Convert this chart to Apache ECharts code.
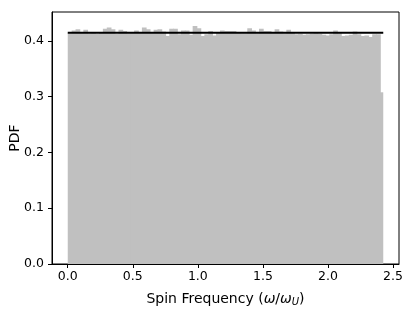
<!DOCTYPE html>
<html>
<head>
<meta charset="utf-8">
<script src="https://cdn.jsdelivr.net/npm/echarts@6/dist/echarts.min.js"></script>
<style>
  html, body { margin: 0; padding: 0; background: #fff; }
  #chart { width: 415px; height: 311px; }
</style>
</head>
<body>
<div id="chart"></div>
<script>
  // histogram bins (left edges start at 0, width binWidth)
  var binWidth = 0.03;
  var pdfValues = [
    0.414, 0.419, 0.421, 0.416, 0.420, 0.414, 0.415, 0.413, 0.416, 0.422,
    0.424, 0.421, 0.413, 0.420, 0.418, 0.414, 0.415, 0.419, 0.416, 0.424,
    0.421, 0.415, 0.420, 0.421, 0.417, 0.409, 0.422, 0.422, 0.412, 0.419,
    0.419, 0.411, 0.427, 0.423, 0.409, 0.412, 0.418, 0.410, 0.416, 0.419,
    0.418, 0.418, 0.418, 0.415, 0.414, 0.414, 0.423, 0.419, 0.414, 0.422,
    0.418, 0.418, 0.415, 0.421, 0.417, 0.414, 0.420, 0.415, 0.412, 0.413,
    0.411, 0.412, 0.413, 0.414, 0.413, 0.411, 0.410, 0.412, 0.419, 0.414,
    0.409, 0.410, 0.411, 0.417, 0.412, 0.409, 0.410, 0.407, 0.412, 0.412,
    0.308
  ];
  var uniformPdf = 0.415;
  var uniformRange = [0, 2.425];
  var xTicks = [0, 0.5, 1.0, 1.5, 2.0, 2.5];
  var yTicks = [0, 0.1, 0.2, 0.3, 0.4];

  var histData = pdfValues.map(function (v, i) {
    return [i * binWidth, Math.min((i + 1) * binWidth, uniformRange[1]), v];
  });

  var chart = echarts.init(document.getElementById('chart'));
  var font = 'DejaVu Sans';

  var option = {
    animation: false,
    grid: {
      left: 52, right: 16, top: 12, bottom: 47,
      outerBoundsMode: 'none',
      containLabel: false,
      show: true, borderColor: '#000', borderWidth: 1, backgroundColor: 'transparent'
    },
    xAxis: {
      type: 'value',
      min: -0.121, max: 2.546,
      splitLine: { show: false },
      axisLine: { show: true, onZero: false, lineStyle: { color: '#000', width: 1 } },
      axisTick: { show: true, length: 4, lineStyle: { color: '#000' }, customValues: xTicks },
      axisLabel: {
        color: '#000', fontFamily: font, fontSize: 12.5, margin: 6,
        customValues: xTicks,
        formatter: function (v) { return v.toFixed(1); }
      },
      name: '{n|Spin Frequency (}{i|ω}{n|/}{i|ω}{s|U}{n|)}',
      nameLocation: 'middle',
      nameGap: 27,
      nameMoveOverlap: false,
      nameTextStyle: {
        rich: {
          n: { fontFamily: font, fontSize: 14, color: '#000' },
          i: { fontFamily: font, fontSize: 14, fontStyle: 'italic', color: '#000' },
          s: { fontFamily: font, fontSize: 10, fontStyle: 'italic', color: '#000', verticalAlign: 'bottom', padding: [6, 0, 0, 0] }
        }
      }
    },
    yAxis: {
      type: 'value',
      min: 0, max: 0.452,
      splitLine: { show: false },
      axisLine: { show: true, onZero: false, lineStyle: { color: '#000', width: 1 } },
      axisTick: { show: true, length: 4, lineStyle: { color: '#000' }, customValues: yTicks },
      axisLabel: {
        color: '#000', fontFamily: font, fontSize: 12.5, margin: 8,
        customValues: yTicks,
        formatter: function (v) { return v.toFixed(1); }
      },
      name: 'PDF',
      nameLocation: 'middle',
      nameGap: 30,
      nameMoveOverlap: false,
      nameTextStyle: { fontFamily: font, fontSize: 14, color: '#000' }
    },
    series: [
      {
        type: 'custom',
        data: histData,
        encode: { x: [0, 1], y: 2 },
        renderItem: function (params, api) {
          var p0 = api.coord([api.value(0), 0]);
          var p1 = api.coord([api.value(1), api.value(2)]);
          var last = params.dataIndex === pdfValues.length - 1;
          return {
            type: 'rect',
            shape: {
              x: p0[0], y: p1[1],
              width: p1[0] - p0[0] + (last ? 0 : 0.8),
              height: p0[1] - p1[1]
            },
            style: { fill: '#c0c0c0' }
          };
        },
        z: 1
      },
      {
        type: 'line',
        data: [[uniformRange[0], uniformPdf], [uniformRange[1], uniformPdf]],
        symbol: 'none',
        lineStyle: { color: '#000', width: 2 },
        z: 3
      }
    ]
  };

  chart.setOption(option);
</script>
</body>
</html>
